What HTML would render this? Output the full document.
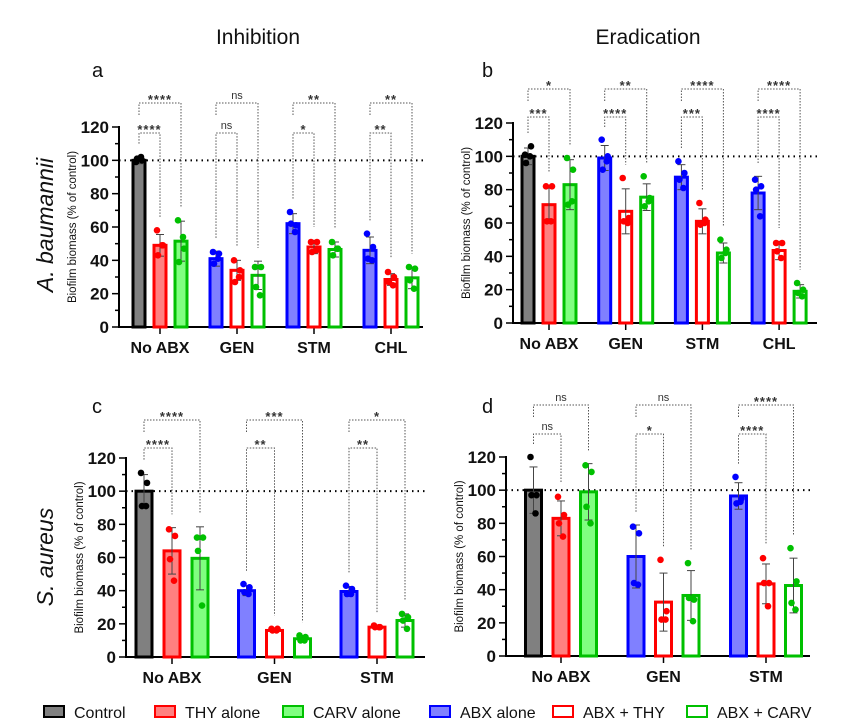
<!DOCTYPE html>
<html><head><meta charset="utf-8">
<style>
html,body{margin:0;padding:0;background:#fff;}
svg{display:block;font-family:"Liberation Sans",Arial,sans-serif;}
</style></head>
<body>
<svg id="fig" width="842" height="719" viewBox="0 0 842 719" xmlns="http://www.w3.org/2000/svg">
  <text x="258" y="44" font-size="21" text-anchor="middle" fill="#111">Inhibition</text>
  <text x="648" y="44" font-size="21" text-anchor="middle" fill="#111">Eradication</text>
  <text x="92" y="77" font-size="20" fill="#111">a</text>
  <text x="482" y="77" font-size="20" fill="#111">b</text>
  <text x="92" y="413" font-size="20" fill="#111">c</text>
  <text x="482" y="413" font-size="20" fill="#111">d</text>
  <text transform="translate(53,225) rotate(-90)" font-size="23" font-style="italic" text-anchor="middle" fill="#111">A. baumannii</text>
  <text transform="translate(53,557) rotate(-90)" font-size="23" font-style="italic" text-anchor="middle" fill="#111">S. aureus</text>
  <g id="legend"></g>
</svg>
<script>
// ---- data ----
const catsAB = ["No ABX","GEN","STM","CHL"];
const catsS = ["No ABX","GEN","STM"];
// panel a
const aMeans = [[100,49,51.5],[41,34,31],[62,48,46.5],[46,28.5,29.5]];
const aSD = [[2,6.5,12],[4.5,6,8.5],[6,4,4.5],[8,3.5,6.5]];
const aPoints = [
 [[99,100,101,102],[58,49,43,49],[64,47,39,54]],
 [[45,44,38,41],[40,34,27,30],[36,36,24,19]],
 [[69,61,62,57],[51,51,45,46],[51,47,43,47]],
 [[56,48,41,40],[33,30,27,25],[36,35,28,23]]];
const aSig = [["****","****"],["ns","ns"],["*","**"],["**","**"]];
// panel b
const bMeans = [[100,71,83],[99,67,75.5],[87.5,61,42],[78,43.5,19]];
const bSD = [[5,11,15],[7.5,13.5,8],[7.5,7.5,6],[10,5.5,4]];
const bPoints = [
 [[101,106,96,100],[82,82,61,61],[99,92,71,73]],
 [[110,100,92,97],[87,63,61,60],[88,75,70,73]],
 [[97,90,86,81],[72,62,59,60],[50,44,39,42]],
 [[86,82,80,64],[48,48,43,39],[24,20,18,16]]];
const bSig = [["***","*"],["****","**"],["***","****"],["****","****"]];
// panel c
const cMeans = [[100,64,59.5],[40,16,11],[39.5,18,22]];
const cSD = [[10,14,19],[3,1,2],[3,1,4]];
const cPoints = [
 [[111,105,91,91],[77,73,59,46],[72,72,64,31]],
 [[44,42,39,38],[17,17,16,16],[13,12,10,10]],
 [[43,41,38,38],[19,18,18,18],[26,24,22,17]]];
const cSig = [["****","****"],["**","***"],["**","*"]];
// panel d
const dMeans = [[100,83,99],[60,32.5,36.5],[96.5,43.5,42.5]];
const dSD = [[14,10.5,17],[19,17.5,15],[8,12,16.5]];
const dPoints = [
 [[120,97,97,86],[96,85,80,72],[115,111,90,80]],
 [[78,74,44,43],[58,27,22,22],[56,34,35,21]],
 [[108,95,92,93],[59,44,44,30],[65,45,32,28]]];
const dSig = [["ns","ns"],["*","ns"],["****","****"]];
const yTicks = [0,20,40,60,80,100,120];
const legendLabels = ["Control","THY alone","CARV alone","ABX alone","ABX + THY","ABX + CARV"];

// ---- styles ----
const STY = {
 control:{fill:"#808080",stroke:"#000"},
 thy:{fill:"#ff8080",stroke:"#ff0000"},
 carv:{fill:"#80ff80",stroke:"#00c000"},
 abx:{fill:"#8080ff",stroke:"#0000ff"},
 abxthy:{fill:"#ffffff",stroke:"#ff0000"},
 abxcarv:{fill:"#ffffff",stroke:"#00c000"}
};
const styleKeys = ["control","thy","carv","abx","abxthy","abxcarv"];
const NS="http://www.w3.org/2000/svg";
const svg=document.getElementById('fig');
function mk(tag,attrs,parent){const e=document.createElementNS(NS,tag);for(const k in attrs)e.setAttribute(k,attrs[k]);(parent||svg).appendChild(e);return e;}

function panel(cfg){
 const g=mk('g',{});
 
 
 const y=v=>cfg.y0-(v/120)*(cfg.y0-cfg.y120);
 const gx=i=>cfg.mid0+i*cfg.gstep;
 const bx=(i,j)=>gx(i)+(j-1)*cfg.bstep;
 const ax=mk('line',{x1:cfg.x0,x2:cfg.x0,y1:y(0)+1,y2:y(120)-1,stroke:"#000","stroke-width":2},g);
 
 
 for(let v=0;v<=120;v+=10){
  mk('line',{x1:cfg.x0-(v%20?4:7),x2:cfg.x0,y1:y(v),y2:y(v),stroke:"#000","stroke-width":1.5},g);
 }
 yTicks.forEach(v=>{
  const t=mk('text',{x:cfg.x0-10,y:y(v)+6,"font-size":17,"font-weight":"bold","text-anchor":"end",fill:"#111"},g);
  t.textContent=v;
  
  
 });
 const yt=mk('text',{transform:`translate(${cfg.x0-43},${(y(0)+y(120))/2}) rotate(-90)`,"font-size":11.5,"text-anchor":"middle",fill:"#111"},g);
 yt.textContent="Biofilm biomass (% of control)";
 
 
 const xa=mk('line',{x1:cfg.x0-1,x2:cfg.xEnd,y1:y(0),y2:y(0),stroke:"#000","stroke-width":2},g);
 
 
 const rl=mk('line',{x1:cfg.x0,x2:cfg.xEnd,y1:y(100),y2:y(100),stroke:"#000","stroke-width":2,"stroke-dasharray":"1.5 4"},g);
 
 
 cfg.cats.forEach((c,i)=>{
  mk('line',{x1:gx(i),x2:gx(i),y1:y(0),y2:y(0)+7,stroke:"#000","stroke-width":1.5},g);
  const t=mk('text',{x:gx(i),y:y(0)+26,"font-size":16,"font-weight":"bold","text-anchor":"middle",fill:"#111"},g);
  t.textContent=c;
  
  
  for(let j=0;j<3;j++){
   const s=STY[styleKeys[i===0?j:j+3]];
   const m=cfg.means[i][j], sd=cfg.sd[i][j];
   const w=cfg.bw;
   const r=mk('rect',{x:bx(i,j)-w/2,y:y(m),width:w,height:y(0)-y(m),fill:s.fill,stroke:s.stroke,"stroke-width":3},g);
   
   
   mk('line',{x1:bx(i,j),x2:bx(i,j),y1:y(m-sd),y2:y(m+sd),stroke:"#444","stroke-width":1},g);
   mk('line',{x1:bx(i,j)-4,x2:bx(i,j)+4,y1:y(m+sd),y2:y(m+sd),stroke:"#444","stroke-width":1},g);
   mk('line',{x1:bx(i,j)-4,x2:bx(i,j)+4,y1:y(m-sd),y2:y(m-sd),stroke:"#444","stroke-width":1},g);
   cfg.points[i][j].forEach((p,k)=>{
    const off=[-3,3,-2,2][k];
    const ci=mk('circle',{cx:bx(i,j)+off,cy:y(p),r:3.3,fill:s.stroke},g);
    
    
   });
  }
  const top=(j)=>Math.max(...cfg.points[i][j],cfg.means[i][j]+cfg.sd[i][j]);
  [[1,cfg.lv2,0],[2,cfg.lv1,1]].forEach(([tj,lv,si])=>{
   const x1=bx(i,0),x2=bx(i,tj);
   const leftEnd= si===0 ? Math.max(lv+10,y(top(0)+8)) : lv+12;
   const rightEnd=Math.max(lv+10,y(top(tj)+8));
   const br=mk('path',{d:`M${x1},${leftEnd} V${lv} H${x2} V${rightEnd}`,fill:"none",stroke:"#555","stroke-width":1,"stroke-dasharray":"1.5 1.5"},g);
   
   
   const lab=cfg.sig[i][si];
   const t2=mk('text',{x:(x1+x2)/2,y:lab==="ns"?lv-4:lv+1,"font-size":lab==="ns"?11:13,"font-weight":lab==="ns"?"normal":"bold","text-anchor":"middle",fill:"#333","letter-spacing":lab==="ns"?0:1},g);
   t2.textContent=lab;
   
   
  });
 });
}
panel({name:'panel-a-chart',cats:catsAB,means:aMeans,sd:aSD,points:aPoints,sig:aSig,x0:119,xEnd:423,y0:327,y120:127,mid0:160,gstep:77,bstep:21,bw:12,lv1:103,lv2:133});
panel({name:'panel-b-chart',cats:catsAB,means:bMeans,sd:bSD,points:bPoints,sig:bSig,x0:513,xEnd:817,y0:323,y120:123,mid0:549,gstep:76.7,bstep:21,bw:12,lv1:89,lv2:117});
panel({name:'panel-c-chart',cats:catsS,means:cMeans,sd:cSD,points:cPoints,sig:cSig,x0:126,xEnd:425,y0:657,y120:458,mid0:172,gstep:102.5,bstep:28,bw:16,lv1:420,lv2:448});
panel({name:'panel-d-chart',cats:catsS,means:dMeans,sd:dSD,points:dPoints,sig:dSig,x0:506,xEnd:810,y0:656,y120:457,mid0:561,gstep:102.5,bstep:27.5,bw:16,lv1:405,lv2:434});

const lg=document.getElementById('legend');
const lgX=[44,155,283,430,553,687];
legendLabels.forEach((l,i)=>{
 const s=STY[styleKeys[i]];
 const r=mk('rect',{x:lgX[i],y:706,width:20,height:11,fill:s.fill,stroke:s.stroke,"stroke-width":2},lg);
 
 
 const t=mk('text',{x:lgX[i]+30,y:718,"font-size":16,fill:"#111"},lg);
 t.textContent=l;
 
 
});
</script>
</body></html>
